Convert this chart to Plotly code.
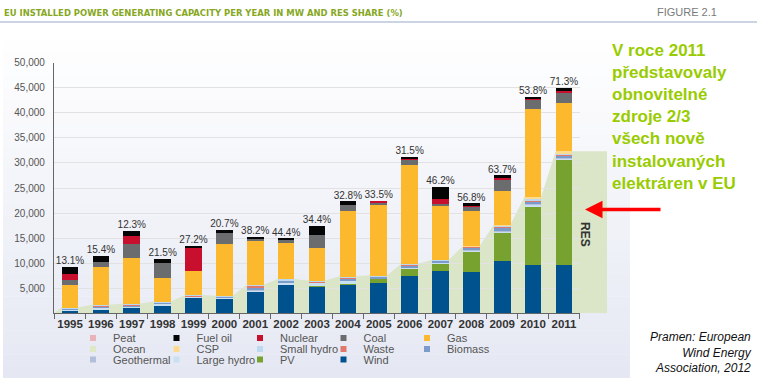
import plotly.graph_objects as go

W, H = 759, 378

years = list(range(1995, 2012))
share_labels = ["13.1%", "15.4%", "12.3%", "21.5%", "27.2%", "20.7%", "38.2%", "44.4%", "34.4%",
                "32.8%", "33.5%", "31.5%", "46.2%", "56.8%", "63.7%", "53.8%", "71.3%"]

# installed capacity per year, MW
wind        = [700, 900, 1200, 1650, 3150, 3100, 4350, 5850, 5400, 5800, 6150, 7550, 8450, 8250, 10500, 9650, 9600]
pv          = [0, 0, 0, 0, 0, 0, 50, 0, 50, 100, 800, 1500, 1600, 4100, 5500, 11800, 21100]
large_hydro = [200, 350, 300, 300, 200, 100, 300, 300, 700, 700, 150, 200, 150, 300, 450, 350, 300]
geothermal  = [0, 0, 0, 0, 0, 0, 50, 0, 0, 0, 0, 0, 50, 50, 50, 50, 50]
biomass     = [150, 250, 200, 200, 150, 150, 400, 450, 150, 400, 300, 350, 250, 450, 500, 550, 500]
waste       = [50, 50, 150, 50, 50, 50, 400, 100, 100, 150, 100, 200, 100, 150, 400, 250, 200]
small_hydro = [100, 150, 100, 150, 100, 100, 150, 150, 150, 250, 100, 100, 50, 100, 150, 200, 150]
csp         = [0, 0, 0, 0, 0, 0, 0, 0, 0, 0, 0, 0, 0, 50, 150, 500, 450]
ocean       = [0] * 17
gas         = [4530, 7600, 9200, 4800, 4800, 10400, 8700, 7200, 6500, 13100, 14070, 19800, 10740, 7000, 6670, 17540, 9670]
coal        = [1000, 930, 2800, 2870, 0, 2200, 600, 670, 2670, 1200, 470, 1000, 400, 870, 2400, 1800, 2130]
nuclear     = [1200, 0, 1600, 0, 4800, 0, 0, 0, 0, 0, 330, 200, 1000, 200, 330, 270, 330]
fuel_oil    = [1330, 1200, 930, 930, 270, 530, 270, 270, 1800, 670, 0, 330, 2470, 470, 470, 270, 530]
peat        = [0] * 17

# stacking order, bottom to top: (name, values, colour, renewable?)
series = [
    ("Wind", wind, "#00528f", True),
    ("PV", pv, "#77a22f", True),
    ("Large hydro", large_hydro, "#c9e0f3", True),
    ("Geothermal", geothermal, "#b3bedb", True),
    ("Biomass", biomass, "#7b9bcb", True),
    ("Waste", waste, "#e0786c", True),
    ("Small hydro", small_hydro, "#bcd9f0", True),
    ("CSP", csp, "#fddb8e", True),
    ("Ocean", ocean, "#dfe8c6", True),
    ("Gas", gas, "#fdb92e", False),
    ("Coal", coal, "#6b6c6e", False),
    ("Nuclear", nuclear, "#c8102e", False),
    ("Fuel oil", fuel_oil, "#050505", False),
    ("Peat", peat, "#e9b3b9", False),
]

legend_rows = [
    ["Peat", "Fuel oil", "Nuclear", "Coal", "Gas"],
    ["Ocean", "CSP", "Small hydro", "Waste", "Biomass"],
    ["Geothermal", "Large hydro", "PV", "Wind"],
]

totals = [sum(s[1][i] for s in series) for i in range(len(years))]
res_tot = [sum(s[1][i] for s in series if s[3]) for i in range(len(years))]

# geometry
px_l, px_r, px_area_r = 54, 580, 607
y_bot, y_top = 313.3, 62.7
x0 = 1994.48
unit = (px_r - px_l) / (2011.52 - x0)
bar_w = 0.54

fig = go.Figure()

# RES background area (on wider hidden axis)
ax_x, ax_y = [x0], [0]
for yr, v in zip(years, res_tot):
    ax_x += [yr - bar_w / 2, yr + bar_w / 2]
    ax_y += [v, v]
ax_x += [x0 + (px_area_r - px_l) / unit]
ax_y += [res_tot[-1]]
fig.add_trace(go.Scatter(x=ax_x, y=ax_y, mode="lines", line=dict(width=0),
                         fill="tozeroy", fillcolor="#dbe5c7", xaxis="x", yaxis="y",
                         showlegend=False, hoverinfo="skip"))

for name, vals, col, _ in series:
    fig.add_trace(go.Bar(x=years, y=vals, name=name, marker=dict(color=col, line=dict(width=0)),
                         width=bar_w, xaxis="x2", yaxis="y2", showlegend=False, legendgroup=name))

fig.add_trace(go.Scatter(x=years, y=totals, mode="text", text=share_labels, textposition="top center",
                         textfont=dict(size=10, color="#333333", family="Liberation Sans"),
                         xaxis="x2", yaxis="y2", showlegend=False, cliponaxis=False, hoverinfo="skip"))

colors = {s[0]: s[2] for s in series}
legend_ids = ["legend", "legend2", "legend3"]
for lid, row in zip(legend_ids, legend_rows):
    for name in row:
        fig.add_trace(go.Scatter(x=[None], y=[None], mode="markers", name=name, legend=lid,
                                 legendgroup=name,
                                 marker=dict(symbol="square", size=6, color=colors[name]),
                                 xaxis="x2", yaxis="y2"))

ydom = [(H - y_bot) / H, (H - y_top) / H]
leg_common = dict(orientation="h", xanchor="left", yanchor="middle", bgcolor="rgba(0,0,0,0)",
                  font=dict(size=11, color="#555555", family="Liberation Sans"),
                  entrywidth=38.5, entrywidthmode="pixels", itemwidth=30, traceorder="normal")
row_y = [338, 349, 359.5]
leg_x = 73 / W
layout_legends = {}
for lid, ry in zip(legend_ids, row_y):
    layout_legends[lid] = dict(leg_common, x=leg_x, y=(H - ry) / H)

# gradient background panel
shapes = []
nb = 30
p_top, p_bot = 30, 378
c0, c1 = (255, 255, 255), (229, 232, 243)
for i in range(nb):
    t = i / (nb - 1)
    c = tuple(round(c0[k] + (c1[k] - c0[k]) * t) for k in range(3))
    ya = p_top + (p_bot - p_top) * i / nb
    yb = p_top + (p_bot - p_top) * (i + 1) / nb
    shapes.append(dict(type="rect", xref="paper", yref="paper", x0=3 / W, x1=630 / W,
                       y0=(H - yb) / H, y1=(H - ya) / H + 0.001, line=dict(width=0),
                       fillcolor="rgb(%d,%d,%d)" % c, layer="below"))
shapes.append(dict(type="line", xref="paper", yref="paper", x0=0, x1=757 / W,
                   y0=(H - 22) / H, y1=(H - 22) / H, line=dict(color="#b9c6da", width=1.5)))

narrow = "Liberation Sans Narrow, Arial Narrow, DejaVu Sans Condensed, Liberation Sans"
annotations = [
    dict(text="<b>EU INSTALLED POWER GENERATING CAPACITY PER YEAR IN MW AND RES SHARE (%)</b>",
         x=2 / W, y=(H - 12) / H, xref="paper", yref="paper", xanchor="left", yanchor="middle",
         showarrow=False, font=dict(size=9.4, color="#86a71e", family=narrow)),
    dict(text="FIGURE 2.1", x=655 / W, y=(H - 12) / H, xref="paper", yref="paper",
         xanchor="left", yanchor="middle", showarrow=False,
         font=dict(size=11, color="#7a7a7a", family="Liberation Sans")),
    dict(text="V roce 2011<br>představovaly<br>obnovitelné<br>zdroje 2/3<br>všech nově<br>instalovaných<br>elektráren v EU",
         x=610 / W, y=(H - 39) / H, xref="paper", yref="paper", xanchor="left", yanchor="top",
         align="left", showarrow=False,
         font=dict(size=17, color="#99cc00", family="Liberation Sans", weight="bold")),
    dict(text="<b>RES</b>", x=594 / W, y=(H - 234) / H, xref="paper", yref="paper", textangle=90,
         showarrow=False, font=dict(size=12, color="#333333", family="Liberation Sans")),
    dict(text="<i>Pramen: European<br>Wind Energy<br>Association, 2012</i>", x=754 / W, y=(H - 352) / H,
         xref="paper", yref="paper", xanchor="right", yanchor="middle", align="right", showarrow=False,
         font=dict(size=12, color="#111111", family="Liberation Sans")),
    dict(text="", x=585 / W, y=(H - 209.5) / H, xref="paper", yref="paper", showarrow=True,
         ax=77, ay=0, arrowhead=2, arrowsize=1, arrowwidth=3.5, arrowcolor="#ff0000", standoff=0),
]

fig.update_layout(
    width=W, height=H, margin=dict(l=0, r=0, t=0, b=0, autoexpand=False),
    paper_bgcolor="white", plot_bgcolor="rgba(0,0,0,0)",
    barmode="stack", bargap=0,
    xaxis=dict(domain=[px_l / W, px_area_r / W], range=[x0, x0 + (px_area_r - px_l) / unit],
               visible=False, anchor="y", fixedrange=True),
    yaxis=dict(domain=ydom, range=[0, 50000], visible=False, anchor="x", fixedrange=True),
    xaxis2=dict(domain=[px_l / W, px_r / W], range=[x0, 2011.52], anchor="y2",
                tickvals=years, ticktext=[str(y) for y in years], ticks="", tickangle=0,
                tickfont=dict(size=11.5, color="#333333", family="Liberation Sans", weight="bold"),
                showline=True, linecolor="#666666", linewidth=1.2, showgrid=False, zeroline=False,
                minor=dict(tickvals=[y - 0.5 for y in years] + [2011.5], ticks="outside",
                           ticklen=5, tickcolor="#666666", tickwidth=1, showgrid=False)),
    yaxis2=dict(domain=ydom, range=[0, 50000], anchor="x2",
                tickvals=list(range(5000, 50001, 5000)),
                ticktext=["{:,}".format(v) for v in range(5000, 50001, 5000)],
                tickfont=dict(size=10, color="#555555", family="Liberation Sans"),
                ticks="", ticklabelstandoff=6,
                showline=True, linecolor="#666666", linewidth=1.2,
                showgrid=True, gridcolor="#e2e2e2", gridwidth=1.2, zeroline=False),
    shapes=shapes, annotations=annotations,
    **layout_legends,
)

fig.write_html("out.html", config={"displayModeBar": False},
               post_script="document.body.style.margin='0px';document.body.style.overflow='hidden';")
